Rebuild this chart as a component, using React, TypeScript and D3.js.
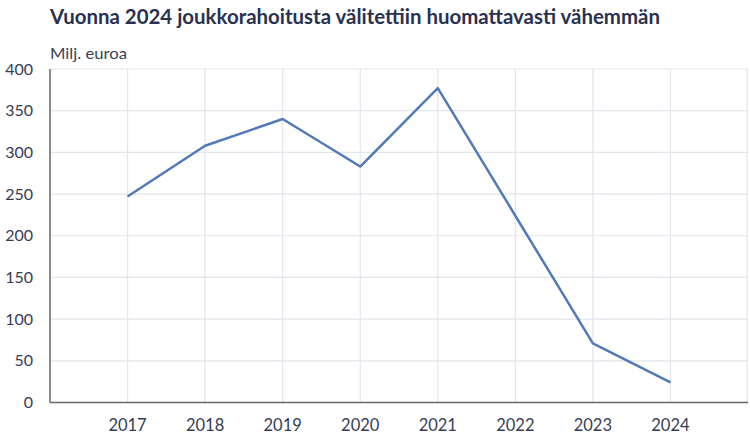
import React from "react";
import * as d3 from "d3";

const title = "Vuonna 2024 joukkorahoitusta välitettiin huomattavasti vähemmän";
const unitLabel = "Milj. euroa";
const years = ["2017", "2018", "2019", "2020", "2021", "2022", "2023", "2024"];
const values = [247, 308, 340, 283, 377, 224, 71, 24];
const yTicks = [0, 50, 100, 150, 200, 250, 300, 350, 400];

export default function App() {
  const W = 750;
  const H = 438;
  const left = 50;
  const right = 748;
  const top = 69;
  const bottom = 402.5;

  const x = d3.scalePoint<string>().domain(years).range([left, right]).padding(1);
  const y = d3.scaleLinear().domain([0, 400]).range([bottom, top]);
  const line = d3
    .line<number>()
    .x((_, i) => x(years[i]) as number)
    .y((d) => y(d));

  const font = "Lato, 'Open Sans', sans-serif";
  const textColor = "#363c55";

  return (
    <svg
      width={W}
      height={H}
      style={{ position: "absolute", left: 0, top: 0, background: "#fff" }}
    >
      <text
        x={50}
        y={23.5}
        fontFamily={font}
        fontWeight={700}
        fontSize={20}
        fill="#2a3150"
        textLength={610}
        lengthAdjust="spacingAndGlyphs"
      >
        {title}
      </text>
      <text
        x={50}
        y={59}
        fontFamily={font}
        fontSize={16}
        fill="#3a3f55"
        textLength={77}
        lengthAdjust="spacingAndGlyphs"
      >
        {unitLabel}
      </text>
      {yTicks.map((t) => (
        <g key={t}>
          {t > 0 && (
            <line x1={left} x2={right} y1={y(t)} y2={y(t)} stroke="#e3e5ec" strokeWidth={1.2} />
          )}
          <text
            x={33}
            y={y(t)}
            dy="0.35em"
            textAnchor="end"
            fontFamily={font}
            fontSize={16}
            fill={textColor}
          >
            {t}
          </text>
        </g>
      ))}
      {years.map((yr) => (
        <g key={yr}>
          <line
            x1={x(yr)}
            x2={x(yr)}
            y1={top}
            y2={bottom}
            stroke="#e3e5ec"
            strokeWidth={1.2}
          />
          <text
            x={x(yr)}
            y={430.5}
            textAnchor="middle"
            fontFamily={font}
            fontSize={16.5}
            fill={textColor}
          >
            {yr}
          </text>
        </g>
      ))}
      <line x1={right - 1} x2={right - 1} y1={top} y2={bottom} stroke="#e3e5ec" strokeWidth={1.2} />
      <line x1={left} x2={left} y1={top} y2={bottom} stroke="#666" strokeWidth={1.5} />
      <line x1={left} x2={right} y1={bottom} y2={bottom} stroke="#666" strokeWidth={1.5} />
      <path d={line(values) || ""} fill="none" stroke="#5279b9" strokeWidth={2.5} strokeLinejoin="round" />
    </svg>
  );
}
